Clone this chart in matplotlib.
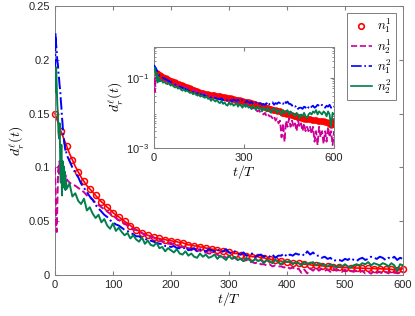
import matplotlib
matplotlib.use('Agg')
import matplotlib.pyplot as plt
from matplotlib.lines import Line2D
from matplotlib.ticker import LogLocator, NullFormatter

plt.rcParams['font.family'] = ['Liberation Sans', 'DejaVu Sans']
plt.rcParams['mathtext.fontset'] = 'cm'

# time grid of the noisy curves (t/T)
t = list(range(0, 20)) + list(range(20, 601, 5))
# time grid of the n_1^1 curve
t_red = list(range(0, 601, 5))

n11 = [0.150, 0.142, 0.134, 0.127, 0.120, 0.113, 0.107, 0.101, 0.096, 0.091,
       0.087, 0.083, 0.080, 0.077, 0.074, 0.071, 0.068, 0.066, 0.063, 0.061,
       0.058, 0.056, 0.054, 0.052, 0.050, 0.048, 0.046, 0.044, 0.042, 0.041,
       0.039, 0.038, 0.037, 0.036, 0.035, 0.034, 0.034, 0.033, 0.033, 0.032,
       0.032, 0.031, 0.031, 0.030, 0.030, 0.029, 0.028, 0.028, 0.027, 0.027,
       0.026, 0.026, 0.025, 0.025, 0.024, 0.024, 0.023, 0.023, 0.022, 0.022,
       0.021, 0.021, 0.020, 0.020, 0.019, 0.019, 0.018, 0.018, 0.017, 0.017,
       0.017, 0.016, 0.016, 0.015, 0.015, 0.014, 0.014, 0.013, 0.013, 0.012,
       0.012, 0.012, 0.011, 0.011, 0.011, 0.010, 0.010, 0.010, 0.0095, 0.009,
       0.009, 0.0088, 0.0085, 0.0083, 0.008, 0.0078, 0.0076, 0.0074, 0.0072, 0.007,
       0.0069, 0.0068, 0.0067, 0.0066, 0.0065, 0.0064, 0.0063, 0.0062, 0.0061, 0.006,
       0.006, 0.0059, 0.0058, 0.0057, 0.0056, 0.0055, 0.0052, 0.0048, 0.0045, 0.0050,
       0.0060]

n21 = [0.100, 0.072, 0.046, 0.040, 0.063, 0.088, 0.101, 0.094, 0.106, 0.097,
       0.103, 0.095, 0.101, 0.093, 0.098, 0.091, 0.096, 0.089, 0.093, 0.088,
       0.089, 0.086, 0.084, 0.083, 0.081, 0.079, 0.077, 0.074, 0.072, 0.070,
       0.067, 0.065, 0.063, 0.061, 0.059, 0.057, 0.055, 0.053, 0.051, 0.050,
       0.048, 0.046, 0.045, 0.042, 0.042, 0.040, 0.039, 0.037, 0.037, 0.035,
       0.035, 0.033, 0.033, 0.031, 0.031, 0.029, 0.030, 0.028, 0.028, 0.026,
       0.026, 0.025, 0.025, 0.023, 0.024, 0.022, 0.023, 0.021, 0.021, 0.020,
       0.020, 0.019, 0.019, 0.017, 0.018, 0.016, 0.017, 0.015, 0.016, 0.014,
       0.015, 0.013, 0.014, 0.012, 0.012, 0.011, 0.012, 0.010, 0.010, 0.009,
       0.010, 0.008, 0.009, 0.008, 0.008, 0.007, 0.008, 0.006, 0.007, 0.005,
       0.006, 0.002, 0.005, 0.0015, 0.006, 0.004, 0.007, 0.004, 0.006, 0.004,
       0.005, 0.003, 0.006, 0.004, 0.005, 0.003, 0.005, 0.003, 0.004, 0.003,
       0.004, 0.0025, 0.004, 0.0015, 0.003, 0.0012, 0.004, 0.002, 0.003, 0.0013,
       0.003, 0.0015, 0.004, 0.002, 0.003, 0.0012, 0.003]

n12 = [0.170, 0.225, 0.214, 0.208, 0.199, 0.196, 0.188, 0.183, 0.176, 0.172,
       0.163, 0.156, 0.147, 0.141, 0.132, 0.129, 0.122, 0.121, 0.115, 0.116,
       0.112, 0.106, 0.100, 0.095, 0.091, 0.085, 0.081, 0.077, 0.073, 0.070,
       0.065, 0.062, 0.059, 0.056, 0.054, 0.051, 0.049, 0.047, 0.046, 0.044,
       0.042, 0.041, 0.039, 0.038, 0.036, 0.036, 0.034, 0.034, 0.032, 0.032,
       0.031, 0.030, 0.029, 0.029, 0.027, 0.027, 0.026, 0.027, 0.025, 0.025,
       0.024, 0.026, 0.023, 0.024, 0.025, 0.022, 0.024, 0.023, 0.022, 0.024,
       0.023, 0.022, 0.024, 0.021, 0.022, 0.024, 0.021, 0.020, 0.022, 0.020,
       0.019, 0.021, 0.018, 0.019, 0.020, 0.017, 0.018, 0.019, 0.017, 0.018,
       0.017, 0.019, 0.016, 0.018, 0.018, 0.020, 0.017, 0.019, 0.018, 0.020,
       0.019, 0.020, 0.018, 0.022, 0.019, 0.021, 0.018, 0.018, 0.016, 0.017,
       0.015, 0.016, 0.013, 0.014, 0.014, 0.013, 0.015, 0.014, 0.016, 0.014,
       0.013, 0.015, 0.016, 0.014, 0.015, 0.017, 0.016, 0.015, 0.017, 0.016,
       0.014, 0.016, 0.015, 0.017, 0.014, 0.016, 0.015]

n22 = [0.170, 0.186, 0.193, 0.176, 0.158, 0.150, 0.133, 0.127, 0.141, 0.108,
       0.086, 0.121, 0.074, 0.106, 0.089, 0.101, 0.081, 0.096, 0.079, 0.088,
       0.080, 0.085, 0.073, 0.076, 0.069, 0.066, 0.071, 0.060, 0.063, 0.057,
       0.053, 0.056, 0.049, 0.052, 0.046, 0.043, 0.048, 0.041, 0.044, 0.040,
       0.037, 0.039, 0.034, 0.037, 0.033, 0.031, 0.035, 0.029, 0.032, 0.028,
       0.027, 0.030, 0.025, 0.026, 0.022, 0.025, 0.023, 0.021, 0.024, 0.020,
       0.019, 0.022, 0.018, 0.020, 0.017, 0.016, 0.020, 0.017, 0.019, 0.016,
       0.017, 0.019, 0.015, 0.018, 0.016, 0.014, 0.018, 0.015, 0.017, 0.014,
       0.015, 0.013, 0.016, 0.014, 0.012, 0.015, 0.013, 0.014, 0.011, 0.014,
       0.013, 0.011, 0.014, 0.012, 0.010, 0.013, 0.012, 0.013, 0.010, 0.012,
       0.011, 0.009, 0.012, 0.010, 0.011, 0.012, 0.009, 0.011, 0.010, 0.009,
       0.008, 0.010, 0.009, 0.007, 0.009, 0.008, 0.010, 0.008, 0.007, 0.009,
       0.010, 0.009, 0.011, 0.010, 0.012, 0.009, 0.011, 0.010, 0.009, 0.011,
       0.010, 0.008, 0.011, 0.009, 0.004, 0.010, 0.009]

labels = ['$n_1^1$', '$n_2^1$', '$n_1^2$', '$n_2^2$']
c_red = '#ff0000'
c_mag = '#cc0099'
c_blue = '#0000ff'
c_green = '#007f4c'
spine_col = '#7f7f7f'


def style_axes(ax):
    for s in ax.spines.values():
        s.set_color(spine_col)
        s.set_linewidth(0.7)
    ax.tick_params(direction='in', which='both', top=True, right=True,
                   color=spine_col, labelcolor='#262626', labelsize=8, length=3)


fig = plt.figure(figsize=(4.15, 3.16), dpi=100)

# main axes
ax = fig.add_axes([0.1325, 0.1297, 0.8385, 0.851])
ax.plot(t_red, n11, '-', color=c_red, lw=1.2, marker='o', ms=4.3, mfc='none',
        mew=1.1, markevery=2, clip_on=False, zorder=2)
ax.plot(t, n21, '--', color=c_mag, lw=1.4, zorder=3)
ax.plot(t, n12, '-.', color=c_blue, lw=1.4, zorder=4)
ax.plot(t, n22, '-', color=c_green, lw=1.4, zorder=5)
ax.set_xlim(0, 600)
ax.set_ylim(0, 0.25)
ax.set_xticks([0, 100, 200, 300, 400, 500, 600])
ax.set_yticks([0, 0.05, 0.1, 0.15, 0.2, 0.25])
ax.set_yticklabels(['0', '0.05', '0.1', '0.15', '0.2', '0.25'])
ax.set_xlabel('$t/T$', fontsize=10, labelpad=0)
ax.set_ylabel(r'$d_r^\ell(t)$', fontsize=10, labelpad=2)
style_axes(ax)

handles = [
    Line2D([], [], ls='none', marker='o', color=c_red, ms=4, mfc='none', mew=1.2),
    Line2D([], [], ls='--', color=c_mag, lw=1.2),
    Line2D([], [], ls='-.', color=c_blue, lw=1.2),
    Line2D([], [], ls='-', color=c_green, lw=1.2),
]
leg = ax.legend(handles, labels, loc='upper right', bbox_to_anchor=(0.98, 0.975),
                borderaxespad=0, fontsize=9.5, handlelength=1.6, handletextpad=0.4,
                labelspacing=0.12, borderpad=0.3, fancybox=False, framealpha=1,
                edgecolor=spine_col)
leg.get_frame().set_linewidth(0.7)

# inset axes on a log scale
axin = fig.add_axes([0.371, 0.532, 0.434, 0.320])
axin.plot(t_red, n11, 'o', color=c_red, ms=3.8, mfc=c_red, mew=0.8, zorder=2)
axin.plot(t, n21, '--', color=c_mag, lw=1.3, zorder=3)
axin.plot(t, n12, '-.', color=c_blue, lw=1.3, zorder=4)
axin.plot(t, n22, '-', color=c_green, lw=1.3, zorder=5)
axin.set_yscale('log')
axin.set_xlim(0, 600)
axin.set_ylim(1e-3, 0.77)
axin.set_xticks([0, 300, 600])
axin.set_yticks([1e-3, 1e-1])
axin.yaxis.set_minor_locator(LogLocator(base=10, subs=range(2, 10), numticks=20))
axin.yaxis.set_minor_formatter(NullFormatter())
axin.set_xlabel('$t/T$', fontsize=10, labelpad=0)
axin.set_ylabel(r'$d_r^\ell(t)$', fontsize=10, labelpad=1)
style_axes(axin)
axin.tick_params(which='minor', length=1.5)

fig.savefig('out.png', dpi=100)
